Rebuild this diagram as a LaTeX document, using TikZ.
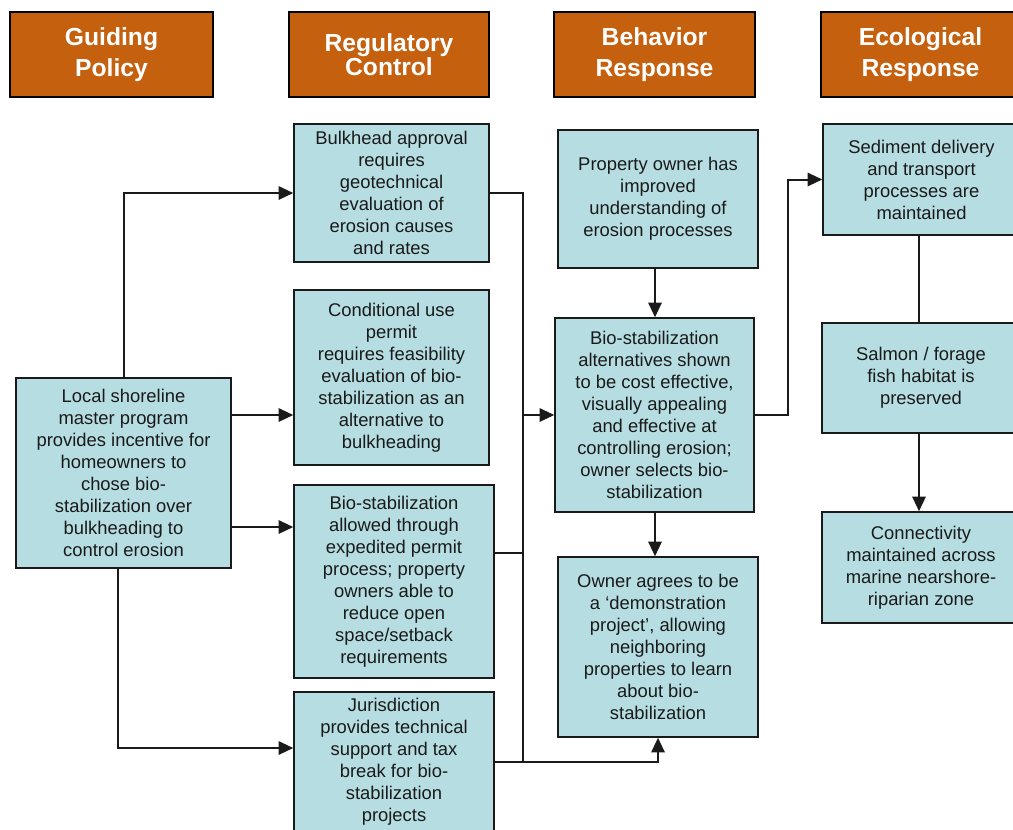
\documentclass[tikz,border=0pt]{standalone}
\usepackage{fontspec}
\setmainfont{Liberation Sans}
\usetikzlibrary{arrows.meta}
\definecolor{hdr}{HTML}{C5600E}
\definecolor{cy}{HTML}{B6DDE1}
\definecolor{ink}{HTML}{1A1A1A}
\begin{document}
\begin{tikzpicture}[x=0.75pt,y=-0.75pt,
 hbox/.style={draw=black,line width=1.8pt,fill=hdr,text=white,font=\fontsize{18.5}{23}\selectfont\bfseries,align=center,inner sep=0pt},
 cbox/.style={draw=ink,line width=1.1pt,fill=cy,text=ink,font=\fontsize{13.8}{16.5}\selectfont,align=center,inner sep=0pt},
 conn/.style={line width=1.5pt,ink},
 arr/.style={conn,-{Triangle[length=11pt,width=10pt]}}]
\useasboundingbox (0,0) rectangle (1013,829);
\fill[white] (0,0) rectangle (1013,829);
% headers
\node[hbox,minimum width=152.25pt,minimum height=63.75pt] (h1) at (111.5,54.5) {Guiding\\Policy};
\node[hbox,minimum width=150pt,minimum height=63.75pt,font=\fontsize{18.5}{17}\selectfont\bfseries] (h2) at (389,54.5) {Regulatory\\Control};
\node[hbox,minimum width=150.75pt,minimum height=63.75pt] (h3) at (654.5,54.5) {Behavior\\Response};
\node[hbox,minimum width=149.25pt,minimum height=63.75pt] (h4) at (920.5,54.5) {Ecological\\Response};
% column 1
\node[cbox,minimum width=161.25pt,minimum height=142.5pt] (L) at (123.5,473) {Local shoreline\\master program\\provides incentive for\\homeowners to\\chose bio-\\stabilization over\\bulkheading to\\control erosion};
% column 2
\node[cbox,minimum width=146.25pt,minimum height=103.5pt] (B1) at (391.5,193) {Bulkhead approval\\requires\\geotechnical\\evaluation of\\erosion causes\\and rates};
\node[cbox,minimum width=146.25pt,minimum height=131.25pt] (B2) at (391.5,377.5) {Conditional use\\permit\\requires feasibility\\evaluation of bio-\\stabilization as an\\alternative to\\bulkheading};
\node[cbox,minimum width=150pt,minimum height=144.75pt] (B3) at (394,581.5) {Bio-stabilization\\allowed through\\expedited permit\\process; property\\owners able to\\reduce open\\space/setback\\requirements};
\node[cbox,minimum width=150pt,minimum height=105pt] (B4) at (394,762) {Jurisdiction\\provides technical\\support and tax\\break for bio-\\stabilization\\projects};
% column 3
\node[cbox,minimum width=150pt,minimum height=103.5pt] (C1) at (658,199) {Property owner has\\improved\\understanding of\\erosion processes};
\node[cbox,minimum width=149.25pt,minimum height=145.5pt] (C2) at (654.5,415) {Bio-stabilization\\alternatives shown\\to be cost effective,\\visually appealing\\and effective at\\controlling erosion;\\owner selects bio-\\stabilization};
\node[cbox,minimum width=150pt,minimum height=135pt] (C3) at (658,647) {Owner agrees to be\\a ‘demonstration\\project’, allowing\\neighboring\\properties to learn\\about bio-\\stabilization};
% column 4
\node[cbox,minimum width=147.75pt,minimum height=83.25pt] (D1) at (921.5,179.5) {Sediment delivery\\and transport\\processes are\\maintained};
\node[cbox,minimum width=148.5pt,minimum height=82.5pt] (D2) at (921,378) {Salmon / forage\\fish habitat is\\preserved};
\node[cbox,minimum width=148.5pt,minimum height=83.25pt] (D3) at (921,567.5) {Connectivity\\maintained across\\marine nearshore-\\riparian zone};
% helper coordinates
\coordinate (r2) at (0,415);
\coordinate (r3) at (0,527);
\coordinate (r4) at (0,748);
\coordinate (r3b) at (0,553);
\coordinate (rb) at (0,762);
\coordinate (xl) at (118,0);
\coordinate (busx) at (523,0);
\coordinate (cx) at (655,0);
\coordinate (bx2) at (788,0);
\coordinate (dx) at (919,0);
% connectors from local program
\draw[arr] (L.north) |- (B1.west);
\draw[arr] (L.east |- r2) -- (B2.west |- r2);
\draw[arr] (L.east |- r3) -- (B3.west |- r3);
\draw[arr] (L.south -| xl) |- (B4.west |- r4);
% bus
\draw[conn] (B1.east) -- (B1.east -| busx) -- (busx |- rb);
\draw[conn] (B3.east |- r3b) -- (busx |- r3b);
\draw[arr] (B4.east |- rb) -| (C3.south);
\draw[arr] (busx |- r2) -- (C2.west);
% behavior column
\draw[arr] (C1.south -| cx) -- (C2.north -| cx);
\draw[arr] (C2.south -| cx) -- (C3.north -| cx);
\draw[arr] (C2.east) -- (C2.east -| bx2) |- (D1.west);
% ecological column
\draw[conn] (D1.south -| dx) -- (D2.north -| dx);
\draw[arr] (D2.south -| dx) -- (D3.north -| dx);
\end{tikzpicture}
\end{document}
